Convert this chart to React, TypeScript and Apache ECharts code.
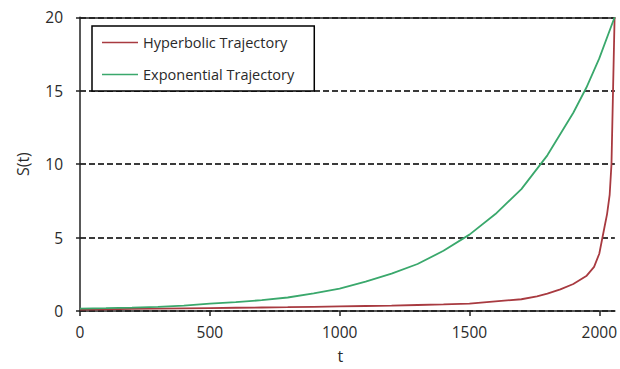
import React, { useEffect, useRef } from "react";
import * as echarts from "echarts";

// Time points and values for the hyperbolic trajectory
const hyperT = [0, 100, 200, 300, 400, 500, 600, 700, 800, 900, 1000, 1100, 1200, 1300, 1400, 1500, 1600, 1700, 1760, 1800, 1850, 1900, 1950, 1980, 2000, 2010, 2020, 2030, 2040, 2047, 2053, 2059];
const hyperS = [0.1, 0.12, 0.14, 0.16, 0.18, 0.2, 0.22, 0.24, 0.26, 0.285, 0.31, 0.34, 0.37, 0.41, 0.45, 0.5, 0.66, 0.8, 1.0, 1.18, 1.47, 1.84, 2.38, 3.0, 3.9, 4.8, 5.7, 6.6, 7.9, 10, 15, 20];

// Time points and values for the exponential trajectory
const expT = [0, 100, 200, 300, 400, 500, 600, 700, 800, 900, 1000, 1100, 1200, 1300, 1400, 1500, 1600, 1700, 1800, 1900, 1950, 2000, 2059];
const expS = [0.16, 0.19, 0.23, 0.28, 0.37, 0.5, 0.6, 0.74, 0.92, 1.2, 1.52, 2.0, 2.55, 3.2, 4.1, 5.2, 6.6, 8.3, 10.6, 13.5, 15.2, 17.2, 20];

const seriesNames = ["Hyperbolic Trajectory", "Exponential Trajectory"];

const X_MIN = 0;
const X_MAX = 2060;
const X_STEP = 500;
const Y_MIN = 0;
const Y_MAX = 20;
const Y_STEP = 5;

const FONT = "Open Sans";
const TEXT_COLOR = "#2a2a2a";

export default function App() {
  const ref = useRef<HTMLDivElement>(null);

  useEffect(() => {
    if (!ref.current) return;
    const chart = echarts.init(ref.current, null, { renderer: "svg" });

    const hyperData = hyperT.map((t, i) => [t, hyperS[i]]);
    const expData = expT.map((t, i) => [t, expS[i]]);

    chart.setOption({
      animation: false,
      backgroundColor: "#fff",
      textStyle: { fontFamily: FONT },
      grid: { left: 80, right: 1.5, top: 17.3, bottom: 53.3, containLabel: false },
      legend: {
        orient: "vertical",
        left: 92,
        top: 26,
        padding: [9, 20, 9, 10],
        itemGap: 17,
        itemWidth: 36,
        itemHeight: 14,
        borderColor: "#000",
        borderWidth: 1.5,
        backgroundColor: "#fff",
        data: seriesNames.map((name) => ({ name, icon: "path://M0,0 L36,0 L36,1.6 L0,1.6 Z" })),
        textStyle: { fontFamily: FONT, fontSize: 14.5, color: TEXT_COLOR },
      },
      xAxis: [
        {
          type: "value",
          min: X_MIN,
          max: X_MAX,
          interval: X_STEP,
          name: "t",
          nameLocation: "middle",
          nameGap: 37,
          nameTextStyle: { fontFamily: FONT, fontSize: 16, color: TEXT_COLOR, padding: [0, 14, 0, 0] },
          axisLine: { show: true, onZero: false, lineStyle: { color: "#222", width: 1.5 } },
          axisTick: { show: true, inside: false, length: 5, lineStyle: { color: "#222", width: 1.5 } },
          axisLabel: {
            fontFamily: FONT,
            fontSize: 15.5,
            color: TEXT_COLOR,
            margin: 13,
            showMaxLabel: false,
            formatter: (v: number) => (v % X_STEP === 0 ? String(v) : ""),
          },
          splitLine: { show: false },
        },
        {
          type: "value",
          position: "top",
          min: X_MIN,
          max: X_MAX,
          interval: X_STEP,
          axisLine: { show: true, onZero: false, lineStyle: { color: "#222", width: 1.5 } },
          axisTick: { show: false },
          axisLabel: { show: false },
          splitLine: { show: false },
        },
      ],
      yAxis: {
        type: "value",
        min: Y_MIN,
        max: Y_MAX,
        interval: Y_STEP,
        name: "S(t)",
        nameLocation: "middle",
        nameGap: 49,
        nameTextStyle: { fontFamily: FONT, fontSize: 16, color: TEXT_COLOR },
        axisLine: { show: true, lineStyle: { color: "#222", width: 1.5 } },
        axisTick: { show: true, inside: false, length: 4, lineStyle: { color: "#222", width: 1.5 } },
        axisLabel: { fontFamily: FONT, fontSize: 15.5, color: TEXT_COLOR, margin: 17 },
        splitLine: {
          show: true,
          lineStyle: { color: "#3a3a3a", width: 1.8, type: [6, 3] },
        },
      },
      series: [
        {
          name: seriesNames[0],
          type: "line",
          data: hyperData,
          showSymbol: false,
          smooth: false,
          lineStyle: { color: "#a83a40", width: 1.8 },
          itemStyle: { color: "#a83a40" },
          z: 3,
        },
        {
          name: seriesNames[1],
          type: "line",
          data: expData,
          showSymbol: false,
          smooth: false,
          lineStyle: { color: "#3aa86c", width: 1.8 },
          itemStyle: { color: "#3aa86c" },
          z: 4,
        },
      ],
    });

    return () => chart.dispose();
  }, []);

  return (
    <div
      ref={ref}
      style={{ width: 620, height: 369, position: "absolute", left: 0, top: 0 }}
    />
  );
}
